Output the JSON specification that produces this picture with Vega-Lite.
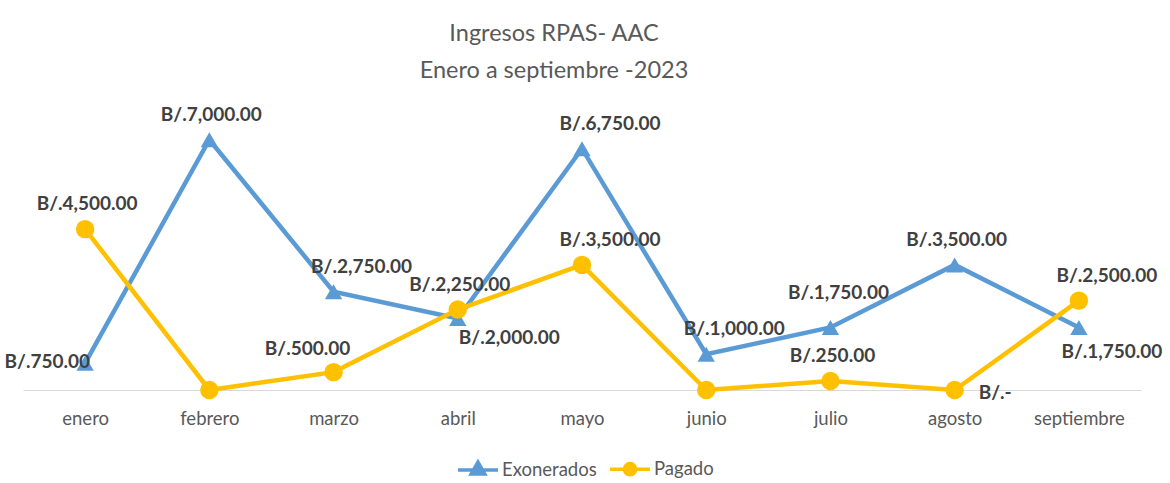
{
  "$schema": "https://vega.github.io/schema/vega-lite/v6.json",
  "autosize": {"type": "none"},
  "width": 1118,
  "height": 286,
  "padding": {"left": 23, "top": 104, "right": 29, "bottom": 93},
  "background": "white",
  "config": {
    "view": {"stroke": null},
    "font": "Lato"
  },
  "title": {
    "text": ["Ingresos RPAS- AAC", "Enero a septiembre -2023"],
    "anchor": "middle",
    "dx": -28,
    "fontSize": 23.5,
    "lineHeight": 37,
    "fontWeight": "normal",
    "color": "#595959",
    "font": "Lato",
    "offset": 22
  },
  "data": {
    "values": [
      {"mes": "enero", "serie": "Exonerados", "valor": 750, "etiqueta": "B/.750.00"},
      {"mes": "febrero", "serie": "Exonerados", "valor": 7000, "etiqueta": "B/.7,000.00"},
      {"mes": "marzo", "serie": "Exonerados", "valor": 2750, "etiqueta": "B/.2,750.00"},
      {"mes": "abril", "serie": "Exonerados", "valor": 2000, "etiqueta": "B/.2,000.00"},
      {"mes": "mayo", "serie": "Exonerados", "valor": 6750, "etiqueta": "B/.6,750.00"},
      {"mes": "junio", "serie": "Exonerados", "valor": 1000, "etiqueta": "B/.1,000.00"},
      {"mes": "julio", "serie": "Exonerados", "valor": 1750, "etiqueta": "B/.1,750.00"},
      {"mes": "agosto", "serie": "Exonerados", "valor": 3500, "etiqueta": "B/.3,500.00"},
      {"mes": "septiembre", "serie": "Exonerados", "valor": 1750, "etiqueta": "B/.1,750.00"},
      {"mes": "enero", "serie": "Pagado", "valor": 4500, "etiqueta": "B/.4,500.00"},
      {"mes": "febrero", "serie": "Pagado", "valor": 0, "etiqueta": "B/.-"},
      {"mes": "marzo", "serie": "Pagado", "valor": 500, "etiqueta": "B/.500.00"},
      {"mes": "abril", "serie": "Pagado", "valor": 2250, "etiqueta": "B/.2,250.00"},
      {"mes": "mayo", "serie": "Pagado", "valor": 3500, "etiqueta": "B/.3,500.00"},
      {"mes": "junio", "serie": "Pagado", "valor": 0, "etiqueta": "B/.-"},
      {"mes": "julio", "serie": "Pagado", "valor": 250, "etiqueta": "B/.250.00"},
      {"mes": "agosto", "serie": "Pagado", "valor": 0, "etiqueta": "B/.-"},
      {"mes": "septiembre", "serie": "Pagado", "valor": 2500, "etiqueta": "B/.2,500.00"}
    ]
  },
  "encoding": {
    "x": {
      "field": "mes",
      "type": "ordinal",
      "sort": ["enero", "febrero", "marzo", "abril", "mayo", "junio", "julio", "agosto", "septiembre"],
      "scale": {"type": "point", "padding": 0.5},
      "axis": {
        "title": null,
        "labelAngle": 0,
        "ticks": false,
        "domainColor": "#d9d9d9",
        "domainWidth": 1.2,
        "labelFontSize": 18.5,
        "labelColor": "#595959",
        "labelFont": "Lato",
        "labelPadding": 19,
        "grid": false
      }
    },
    "y": {
      "field": "valor",
      "type": "quantitative",
      "scale": {"domain": [0, 8000], "nice": false},
      "axis": null
    }
  },
  "layer": [
    {
      "mark": {"type": "line", "strokeWidth": 4.5},
      "encoding": {
        "color": {
          "field": "serie",
          "type": "nominal",
          "scale": {"domain": ["Exonerados", "Pagado"], "range": ["#5B9BD5", "#FFC000"]},
          "legend": {
            "orient": "none",
            "legendX": 433,
            "legendY": 343,
            "direction": "horizontal",
            "title": null,
            "labelFontSize": 18.5,
            "labelColor": "#595959",
            "labelFont": "Lato",
            "symbolType": "M-1,0H1M0,-0.4L0.34,0.2L-0.34,0.2Z",
            "symbolSize": 1600,
            "symbolStrokeWidth": 3.5,
            "columnPadding": 6,
            "labelOffset": 2,
            "encode": {
              "symbols": {
                "update": {
                  "shape": {"signal": "datum.value === 'Exonerados' ? 'M-1,0H1M0,-0.4L0.34,0.2L-0.34,0.2Z' : 'M-1,0H1M0.28,0A0.28,0.28,0,1,1,-0.28,0A0.28,0.28,0,1,1,0.28,0'"},
                  "fill": {"signal": "scale('color', datum.value)"},
                  "stroke": {"signal": "scale('color', datum.value)"},
                  "strokeWidth": {"value": 3.5}
                }
              }
            }
          }
        },
        "order": {"field": "serie"}
      }
    },
    {
      "transform": [{"filter": "datum.serie === 'Exonerados'"}],
      "mark": {"type": "point", "filled": true, "opacity": 1, "shape": "triangle-up", "size": 300},
      "encoding": {
        "color": {"field": "serie", "type": "nominal", "legend": null}
      }
    },
    {
      "transform": [{"filter": "datum.serie === 'Pagado'"}],
      "mark": {"type": "point", "filled": true, "opacity": 1, "shape": "circle", "size": 340},
      "encoding": {
        "color": {"field": "serie", "type": "nominal", "legend": null}
      }
    },
    {
      "transform": [{"filter": "(datum.serie === 'Exonerados' && (datum.mes === 'febrero' || datum.mes === 'agosto')) || (datum.serie === 'Pagado' && (datum.mes === 'enero' || datum.mes === 'abril' || datum.mes === 'julio'))"}],
      "mark": {"type": "text", "fontSize": 19, "fontWeight": "bold", "font": "Lato", "color": "#404040", "dx": 2, "dy": -25},
      "encoding": {"text": {"field": "etiqueta"}}
    },
    {
      "transform": [{"filter": "datum.serie === 'Exonerados' && datum.mes === 'julio'"}],
      "mark": {"type": "text", "fontSize": 19, "fontWeight": "bold", "font": "Lato", "color": "#404040", "dx": 8, "dy": -34},
      "encoding": {"text": {"field": "etiqueta"}}
    },
    {
      "transform": [{"filter": "(datum.serie === 'Exonerados' && (datum.mes === 'marzo' || datum.mes === 'mayo' || datum.mes === 'junio')) || (datum.serie === 'Pagado' && (datum.mes === 'mayo' || datum.mes === 'septiembre'))"}],
      "mark": {"type": "text", "fontSize": 19, "fontWeight": "bold", "font": "Lato", "color": "#404040", "dx": 28, "dy": -25},
      "encoding": {"text": {"field": "etiqueta"}}
    },
    {
      "transform": [{"filter": "datum.serie === 'Pagado' && datum.mes === 'marzo'"}],
      "mark": {"type": "text", "fontSize": 19, "fontWeight": "bold", "font": "Lato", "color": "#404040", "dx": -26, "dy": -23},
      "encoding": {"text": {"field": "etiqueta"}}
    },
    {
      "transform": [{"filter": "datum.serie === 'Exonerados' && datum.mes === 'enero'"}],
      "mark": {"type": "text", "fontSize": 19, "fontWeight": "bold", "font": "Lato", "color": "#404040", "align": "right", "dx": 5, "dy": -1},
      "encoding": {"text": {"field": "etiqueta"}}
    },
    {
      "transform": [{"filter": "datum.serie === 'Exonerados' && datum.mes === 'abril'"}],
      "mark": {"type": "text", "fontSize": 19, "fontWeight": "bold", "font": "Lato", "color": "#404040", "align": "left", "dx": 1, "dy": 19},
      "encoding": {"text": {"field": "etiqueta"}}
    },
    {
      "transform": [{"filter": "datum.serie === 'Exonerados' && datum.mes === 'septiembre'"}],
      "mark": {"type": "text", "fontSize": 19, "fontWeight": "bold", "font": "Lato", "color": "#404040", "dx": 33, "dy": 25},
      "encoding": {"text": {"field": "etiqueta"}}
    },
    {
      "transform": [{"filter": "datum.serie === 'Pagado' && datum.mes === 'agosto'"}],
      "mark": {"type": "text", "fontSize": 19, "fontWeight": "bold", "font": "Lato", "color": "#404040", "align": "left", "dx": 24, "dy": 3},
      "encoding": {"text": {"field": "etiqueta"}}
    }
  ]
}
